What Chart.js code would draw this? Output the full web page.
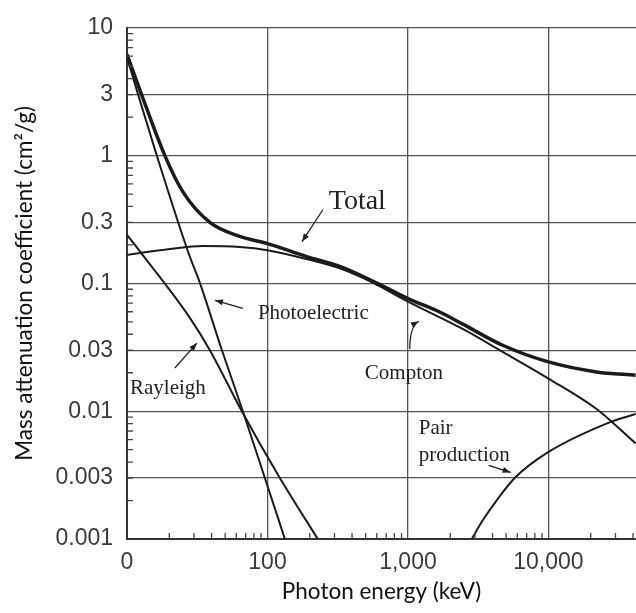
<!DOCTYPE html>
<html>
<head>
<meta charset="utf-8">
<script src="https://cdn.jsdelivr.net/npm/chart.js@4"></script>
<style>
  html, body { margin: 0; padding: 0; background: #fff; }
  #wrap { width: 636px; height: 613px; }
</style>
</head>
<body>
<div id="wrap"><canvas id="chart"></canvas></div>
<script>
// energies in keV, coefficients in cm2/g
const totalE = [10, 12.7, 18.6, 25, 38.9, 63.5, 100, 190, 327, 565, 1000, 1683, 2455, 4720, 10000, 22000, 41700];
const totalMu = [6.2, 3.0, 1.0, 0.52, 0.3, 0.233, 0.205, 0.162, 0.136, 0.104, 0.076, 0.0597, 0.048, 0.0328, 0.0243, 0.0203, 0.0191];

const photoE = [10, 12.0, 16.3, 27.2, 33.1, 47.4, 66.8, 95.8, 133];
const photoMu = [5.9, 3.0, 1.0, 0.177, 0.1, 0.03, 0.01, 0.003, 0.001];

const comptonE = [10, 20.2, 34.7, 63.5, 100, 190, 327, 565, 1000, 2455, 4720, 10000, 22000, 41700];
const comptonMu = [0.167, 0.186, 0.196, 0.193, 0.182, 0.155, 0.131, 0.101, 0.072, 0.044, 0.0291, 0.018, 0.0104, 0.0056];

const rayleighE = [10, 12.4, 28.1, 38.9, 65.7, 122.5, 228];
const rayleighMu = [0.24, 0.177, 0.0535, 0.03, 0.01, 0.003, 0.001];

const pairE = [2844, 3405, 4270, 5750, 9700, 25900, 41700];
const pairMu = [0.001, 0.0014, 0.002, 0.003, 0.0047, 0.008, 0.0095];

const xTickValues = [10, 100, 1000, 10000];
const xTickLabels = ['0', '100', '1,000', '10,000'];
const yTickValues = [0.001, 0.003, 0.01, 0.03, 0.1, 0.3, 1, 3, 10];
const yTickLabels = ['0.001', '0.003', '0.01', '0.03', '0.1', '0.3', '1', '3', '10'];

// text labels and arrows, placed in data units (keV, cm2/g)
const notes = [
  { text: 'Total', e: 273, mu: 0.434, size: 28 },
  { text: 'Photoelectric', e: 85.5, mu: 0.0585, size: 21 },
  { text: 'Rayleigh', e: 10.5, mu: 0.015, size: 21 },
  { text: 'Compton', e: 493, mu: 0.0196, size: 21 },
  { text: 'Pair', e: 1194, mu: 0.00731, size: 21 },
  { text: 'production', e: 1194, mu: 0.00451, size: 21 }
];
const arrows = [
  { from: [248, 0.377], to: [176, 0.212] },
  { from: [66.8, 0.0638], to: [42.3, 0.0738] },
  { from: [21.9, 0.0218], to: [31.5, 0.0341] },
  { from: [1030, 0.0306], via: [1030, 0.0462], to: [1194, 0.0506] },
  { from: [3757, 0.00377], to: [5383, 0.00332] }
];

function points(xs, ys) {
  return xs.map((x, i) => ({ x: x, y: ys[i] }));
}

function curve(label, xs, ys, width) {
  return {
    label: label,
    data: points(xs, ys),
    showLine: true,
    borderColor: '#1b1b1b',
    borderWidth: width,
    pointRadius: 0,
    cubicInterpolationMode: 'monotone'
  };
}

// small inward ticks at 2..9 of every decade
const minorTicks = {
  id: 'minorTicks',
  afterDraw(chart) {
    const ctx = chart.ctx;
    const a = chart.chartArea;
    const xs = chart.scales.x, ys = chart.scales.y;
    ctx.save();
    ctx.strokeStyle = '#444';
    ctx.lineWidth = 1.3;
    ctx.beginPath();
    for (let k = -3; k <= 4; k++) {
      for (let m = 2; m <= 9; m++) {
        const v = m * Math.pow(10, k);
        if (v < ys.min || v > ys.max) continue;
        const py = ys.getPixelForValue(v);
        ctx.moveTo(a.left, py);
        ctx.lineTo(a.left + 6, py);
      }
    }
    for (let k = 1; k <= 4; k++) {
      for (let m = 2; m <= 9; m++) {
        const v = m * Math.pow(10, k);
        if (v < xs.min || v > xs.max) continue;
        const px = xs.getPixelForValue(v);
        ctx.moveTo(px, a.bottom);
        ctx.lineTo(px, a.bottom - 6);
      }
    }
    ctx.stroke();
    ctx.restore();
  }
};

const labelsPlugin = {
  id: 'labels',
  afterDatasetsDraw(chart) {
    const ctx = chart.ctx;
    const xs = chart.scales.x, ys = chart.scales.y;
    const px = p => [xs.getPixelForValue(p[0]), ys.getPixelForValue(p[1])];
    ctx.save();
    ctx.fillStyle = '#222';
    ctx.textAlign = 'left';
    ctx.textBaseline = 'middle';
    notes.forEach(n => {
      ctx.font = n.size + 'px "Liberation Serif", serif';
      ctx.fillText(n.text, xs.getPixelForValue(n.e), ys.getPixelForValue(n.mu));
    });
    ctx.strokeStyle = '#222';
    ctx.lineWidth = 1.3;
    arrows.forEach(ar => {
      const f = px(ar.from), t = px(ar.to);
      ctx.beginPath();
      ctx.moveTo(f[0], f[1]);
      let dir;
      if (ar.via) {
        const c = px(ar.via);
        ctx.quadraticCurveTo(c[0], c[1], t[0], t[1]);
        dir = Math.atan2(t[1] - c[1], t[0] - c[0]);
      } else {
        ctx.lineTo(t[0], t[1]);
        dir = Math.atan2(t[1] - f[1], t[0] - f[0]);
      }
      ctx.stroke();
      ctx.beginPath();
      ctx.moveTo(t[0], t[1]);
      ctx.lineTo(t[0] - 8 * Math.cos(dir) + 3 * Math.sin(dir), t[1] - 8 * Math.sin(dir) - 3 * Math.cos(dir));
      ctx.lineTo(t[0] - 8 * Math.cos(dir) - 3 * Math.sin(dir), t[1] - 8 * Math.sin(dir) + 3 * Math.cos(dir));
      ctx.closePath();
      ctx.fill();
    });
    ctx.restore();
  }
};

new Chart(document.getElementById('chart'), {
  type: 'scatter',
  data: {
    datasets: [
      curve('Total', totalE, totalMu, 3.5),
      curve('Photoelectric', photoE, photoMu, 2),
      curve('Compton', comptonE, comptonMu, 2),
      curve('Rayleigh', rayleighE, rayleighMu, 2),
      curve('Pair production', pairE, pairMu, 2)
    ]
  },
  options: {
    responsive: true,
    maintainAspectRatio: false,
    animation: false,
    layout: { padding: { top: 25, right: 0, left: 0, bottom: 0 } },
    plugins: {
      legend: { display: false },
      tooltip: { enabled: false }
    },
    scales: {
      x: {
        type: 'logarithmic',
        min: 10,
        max: 42000,
        afterBuildTicks: s => { s.ticks = xTickValues.map(v => ({ value: v })); },
        afterFit: s => { s.height = 74; },
        ticks: {
          callback: (v, i) => xTickLabels[i],
          font: { family: '"Liberation Sans", Arial', size: 23 },
          color: '#3a3a3a',
          padding: 10,
          maxRotation: 0,
          autoSkip: false
        },
        grid: { color: '#555', lineWidth: 1.3, drawTicks: false },
        border: { color: '#333', width: 2 },
        title: {
          display: true,
          text: 'Photon energy (keV)',
          font: { family: 'Lato', size: 22.5 },
          color: '#111',
          padding: { top: 0, bottom: 8 }
        }
      },
      y: {
        type: 'logarithmic',
        min: 0.001,
        max: 10,
        afterBuildTicks: s => { s.ticks = yTickValues.map(v => ({ value: v })); },
        afterFit: s => { s.width = 127; },
        ticks: {
          callback: (v, i) => yTickLabels[i],
          font: { family: '"Liberation Sans", Arial', size: 23 },
          color: '#3a3a3a',
          padding: 14,
          autoSkip: false
        },
        grid: { color: '#555', lineWidth: 1.3, drawTicks: false },
        border: { color: '#333', width: 2 },
        title: {
          display: true,
          text: 'Mass attenuation coefficient (cm²/g)',
          font: { family: 'Lato', size: 22.5 },
          color: '#111',
          padding: { top: 11, bottom: 0 }
        }
      }
    }
  },
  plugins: [minorTicks, labelsPlugin]
});
</script>
</body>
</html>
